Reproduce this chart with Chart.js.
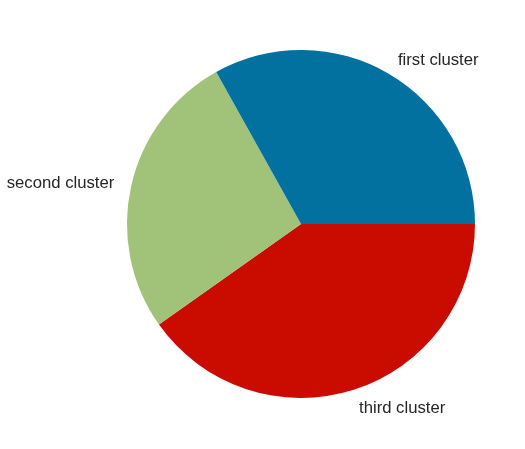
<!DOCTYPE html>
<html>
<head>
<meta charset="utf-8">
<script src="https://cdn.jsdelivr.net/npm/chart.js@4.4.0/dist/chart.umd.min.js"></script>
<style>
  html, body { margin: 0; padding: 0; background: #fff; }
  #wrap { width: 525px; height: 449px; }
</style>
</head>
<body>
<div id="wrap"><canvas id="chart" width="525" height="449"></canvas></div>
<script>
// valores (porcentajes aproximados)
const categorias = ["first cluster", "second cluster", "third cluster"];
const valores = [33.1, 26.7, 40.2];
const colores = ["#02719f", "#a0c279", "#ca0c00"];

// Chart.js dibuja en sentido horario, matplotlib en antihorario: invertimos el orden
const etiquetasChart = categorias.slice().reverse();
const valoresChart = valores.slice().reverse();
const coloresChart = colores.slice().reverse();

// etiquetas fuera del pastel, como en matplotlib (1.1 * radio)
const etiquetasPlugin = {
  id: "etiquetas",
  afterDraw(chart) {
    const ctx = chart.ctx;
    const meta = chart.getDatasetMeta(0);
    ctx.save();
    ctx.font = "16.7px 'Liberation Sans', Arial, sans-serif";
    ctx.fillStyle = "#262626";
    ctx.textBaseline = "middle";
    meta.data.forEach((arc, i) => {
      const medio = (arc.startAngle + arc.endAngle) / 2;
      const r = arc.outerRadius * 1.1;
      const x = arc.x + Math.cos(medio) * r;
      const y = arc.y + Math.sin(medio) * r + 1.5;
      ctx.textAlign = Math.cos(medio) >= 0 ? "left" : "right";
      ctx.fillText(chart.data.labels[i], x, y);
    });
    ctx.restore();
  }
};

const ctx = document.getElementById("chart").getContext("2d");
new Chart(ctx, {
  type: "pie",
  data: {
    labels: etiquetasChart,
    datasets: [{
      data: valoresChart,
      backgroundColor: coloresChart,
      borderWidth: 0
    }]
  },
  options: {
    responsive: false,
    animation: false,
    rotation: 90,
    layout: { padding: { left: 127, right: 50, top: 50, bottom: 51 } },
    plugins: {
      legend: { display: false },
      tooltip: { enabled: false }
    }
  },
  plugins: [etiquetasPlugin]
});
</script>
</body>
</html>
